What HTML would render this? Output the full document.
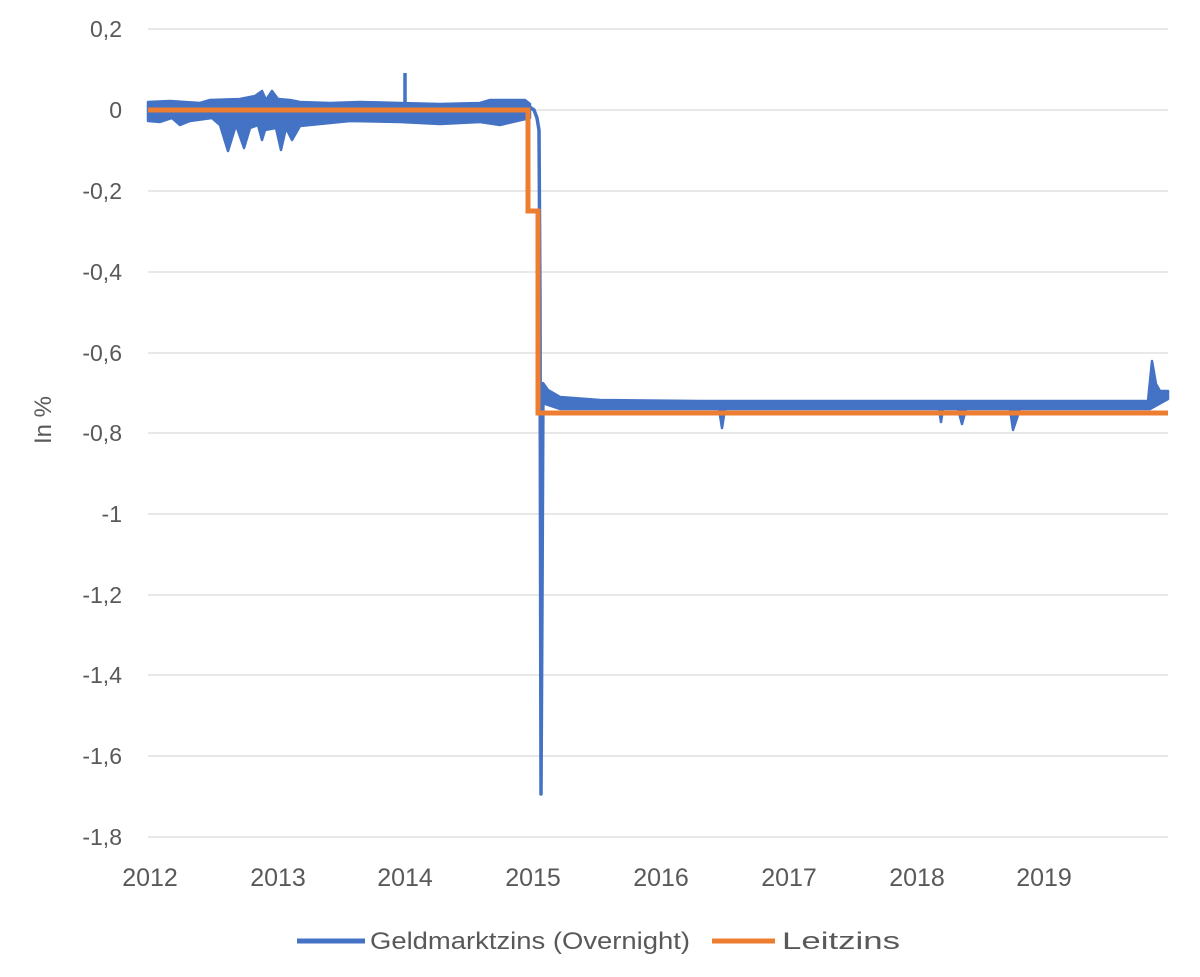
<!DOCTYPE html>
<html><head><meta charset="utf-8"><style>
body{margin:0;background:#fff;}
text{font-family:"Liberation Sans",sans-serif;fill:#595959;}
</style></head><body>
<svg width="1200" height="972" xmlns="http://www.w3.org/2000/svg">
<g stroke="#d9d9d9" stroke-width="1.3">
<line x1="148" x2="1168" y1="29" y2="29"/><line x1="148" x2="1168" y1="110" y2="110"/>
<line x1="148" x2="1168" y1="191" y2="191"/><line x1="148" x2="1168" y1="272" y2="272"/>
<line x1="148" x2="1168" y1="353" y2="353"/><line x1="148" x2="1168" y1="433" y2="433"/>
<line x1="148" x2="1168" y1="514" y2="514"/><line x1="148" x2="1168" y1="595" y2="595"/>
<line x1="148" x2="1168" y1="675" y2="675"/><line x1="148" x2="1168" y1="756" y2="756"/>
<line x1="148" x2="1168" y1="837" y2="837"/>
</g>
<g font-size="23" text-anchor="end">
<text x="122" y="37">0,2</text><text x="122" y="118">0</text><text x="122" y="199">-0,2</text>
<text x="122" y="280">-0,4</text><text x="122" y="361">-0,6</text><text x="122" y="441">-0,8</text>
<text x="122" y="522">-1</text><text x="122" y="603">-1,2</text><text x="122" y="683">-1,4</text>
<text x="122" y="764">-1,6</text><text x="122" y="845">-1,8</text>
</g>
<g font-size="25" text-anchor="middle">
<text x="150" y="886">2012</text><text x="278" y="886">2013</text><text x="405" y="886">2014</text>
<text x="533" y="886">2015</text><text x="661" y="886">2016</text><text x="789" y="886">2017</text>
<text x="917" y="886">2018</text><text x="1044" y="886">2019</text>
</g>
<text font-size="24" text-anchor="middle" transform="translate(51,420) rotate(-90)">In %</text>
<g fill="#4472c4" stroke="#4472c4" stroke-width="2.5" stroke-linejoin="round">
<polygon points="148,102 170,101 200,103 210,100 240,99 255,96 262,91 266,100 272,91 278,99 290,100 300,102 330,103 360,102 400,103 440,104 480,103 490,100 525,100 530,104 530,118 500,125 480,122 440,124 400,122 350,121 300,126 292,140 286,128 281,150 276,128 265,130 262,140 258,125 250,128 244,148 236,125 228,151 220,125 212,118 190,121 180,125 172,118 160,122 148,121"/>
<polygon points="543,383 548,390 560,397 600,400 700,401 1148,401 1152,361 1156,384 1160,391 1168,391 1168,399 1150,409 1020,409 1013,430 1010,409 966,409 962,424 958,409 943,409 941,422 939,409 725,409 722,428 719,409 560,409 545,404"/>
</g>
<line x1="405" y1="110" x2="405" y2="73" stroke="#4472c4" stroke-width="3.5"/>
<polyline fill="none" stroke="#4472c4" stroke-width="3.5" stroke-linejoin="round" points="528,106 534,110 537,118 539,130 540,300 541,794 542,600 543,385 550,396"/>
<polyline fill="none" stroke="#ed7d31" stroke-width="5" points="148,110 528,110 528,211 538,211 538,413 1168,413"/>
<line x1="297" x2="365" y1="941" y2="941" stroke="#4472c4" stroke-width="5"/>
<text x="370" y="949" font-size="24" textLength="320" lengthAdjust="spacingAndGlyphs">Geldmarktzins (Overnight)</text>
<line x1="712" x2="775" y1="941" y2="941" stroke="#ed7d31" stroke-width="5"/>
<text x="782" y="949" font-size="24" textLength="118" lengthAdjust="spacingAndGlyphs">Leitzins</text>
</svg>
</body></html>
